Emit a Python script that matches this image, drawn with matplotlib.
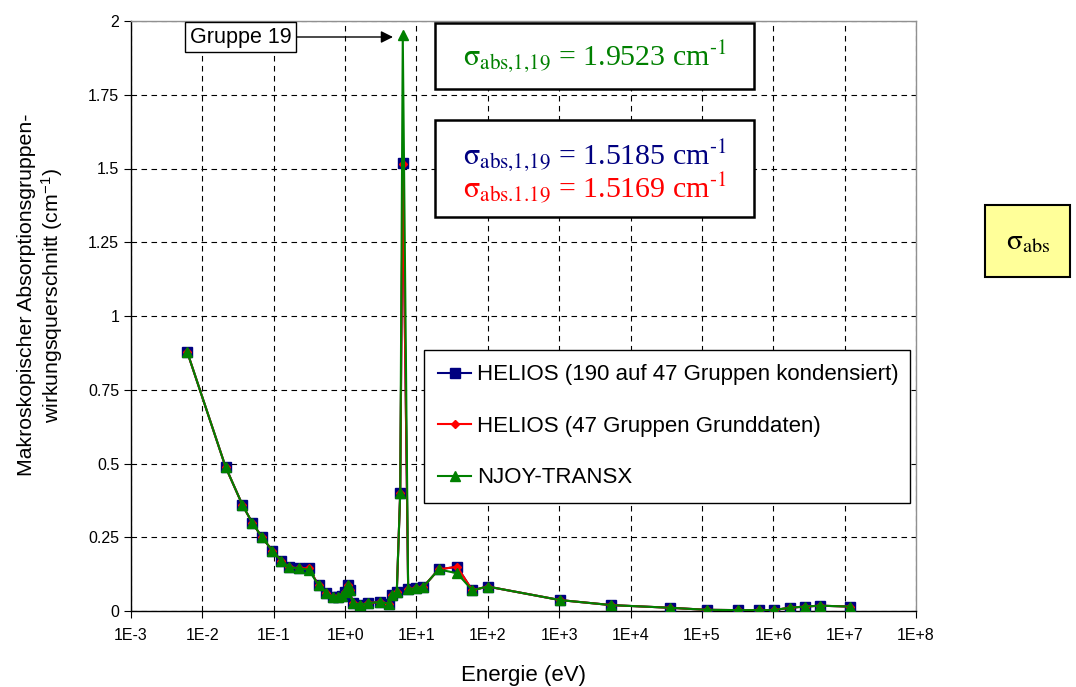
import matplotlib
matplotlib.use("Agg")
import matplotlib.pyplot as plt
from matplotlib.patches import Rectangle

plt.rcParams['font.family'] = ['Liberation Sans', 'DejaVu Sans']
plt.rcParams['mathtext.fontset'] = 'stix'

# ---- data ----
energy_eV = [6.12e-3, 2.11e-2, 3.65e-2, 4.98e-2, 6.86e-2, 9.6e-2, 0.128, 0.164, 0.224, 0.309,
             0.426, 0.546, 0.675, 0.785, 0.893, 1.0, 1.095, 1.156, 1.285, 1.63,
             2.08, 3.04, 4.10, 4.57, 5.30, 5.92, 6.43, 7.65, 9.9, 12.5,
             20.5, 37.1, 60.7, 99.0, 1030.0, 5380.0, 35600.0, 1.16e5, 3.22e5, 6.27e5,
             1.02e6, 1.69e6, 2.76e6, 4.47e6, 1.2e7]
helios_190 = [0.879, 0.489, 0.359, 0.300, 0.250, 0.204, 0.170, 0.148, 0.145, 0.145,
              0.087, 0.060, 0.048, 0.047, 0.050, 0.065, 0.088, 0.070, 0.026, 0.022,
              0.026, 0.031, 0.025, 0.054, 0.064, 0.400, 1.5185, 0.073, 0.078, 0.082,
              0.141, 0.150, 0.070, 0.083, 0.037, 0.020, 0.011, 0.004, 0.003, 0.003,
              0.003, 0.011, 0.015, 0.018, 0.015]
helios_47 = [0.879, 0.489, 0.359, 0.300, 0.250, 0.204, 0.170, 0.148, 0.145, 0.145,
             0.087, 0.060, 0.048, 0.047, 0.050, 0.065, 0.088, 0.070, 0.026, 0.022,
             0.026, 0.031, 0.025, 0.054, 0.064, 0.400, 1.5169, 0.073, 0.078, 0.082,
             0.141, 0.150, 0.070, 0.083, 0.037, 0.020, 0.011, 0.004, 0.003, 0.003,
             0.003, 0.011, 0.015, 0.018, 0.015]
njoy_transx = [0.879, 0.489, 0.359, 0.300, 0.250, 0.204, 0.170, 0.148, 0.145, 0.140,
               0.087, 0.060, 0.048, 0.047, 0.050, 0.065, 0.088, 0.070, 0.026, 0.022,
               0.026, 0.031, 0.025, 0.054, 0.064, 0.400, 1.9523, 0.073, 0.078, 0.082,
               0.141, 0.128, 0.070, 0.083, 0.037, 0.020, 0.011, 0.004, 0.003, 0.003,
               0.003, 0.011, 0.015, 0.018, 0.015]

series_labels = ["HELIOS (190 auf 47 Gruppen kondensiert)",
                 "HELIOS (47 Gruppen Grunddaten)",
                 "NJOY-TRANSX"]
x_ticks = [1e-3, 1e-2, 1e-1, 1e0, 1e1, 1e2, 1e3, 1e4, 1e5, 1e6, 1e7, 1e8]
x_tick_labels = ["1E-3", "1E-2", "1E-1", "1E+0", "1E+1", "1E+2", "1E+3",
                 "1E+4", "1E+5", "1E+6", "1E+7", "1E+8"]
y_ticks = [0, 0.25, 0.5, 0.75, 1, 1.25, 1.5, 1.75, 2]
y_tick_labels = ["0", "0.25", "0.5", "0.75", "1", "1.25", "1.5", "1.75", "2"]

# ---- figure ----
W, H = 1076, 687
fig = plt.figure(figsize=(W / 100, H / 100), dpi=100)
L, R, T, B = 131, 916, 21, 611
ax = fig.add_axes([L / W, 1 - B / H, (R - L) / W, (B - T) / H])

navy, red, green = "#000080", "#FF0000", "#008000"
ax.plot(energy_eV, helios_190, color=navy, lw=1.5, marker="s", ms=6.5,
        mfc=navy, mec=navy, label=series_labels[0], zorder=3)
ax.plot(energy_eV, helios_47, color=red, lw=1.5, marker="D", ms=4,
        mfc=red, mec=red, label=series_labels[1], zorder=4)
ax.plot(energy_eV, njoy_transx, color=green, lw=1.5, marker="^", ms=7,
        mfc=green, mec=green, label=series_labels[2], zorder=5)

ax.set_xscale("log")
ax.set_xlim(1e-3, 1e8)
ax.set_ylim(0, 2)
ax.set_xticks(x_ticks)
ax.set_xticklabels(x_tick_labels)
ax.minorticks_off()
ax.set_yticks(y_ticks)
ax.set_yticklabels(y_tick_labels)
ax.tick_params(labelsize=11.5, direction="out", length=5, width=0.8, color="black")
ax.tick_params(axis="x", pad=7)

ax.grid(True, which="major", color="black", lw=0.8, linestyle=(0, (5, 4)))
ax.set_axisbelow(True)
for s in ("top", "right"):
    ax.spines[s].set_color("#909090")
    ax.spines[s].set_linewidth(1.0)
for s in ("left", "bottom"):
    ax.spines[s].set_color("black")
    ax.spines[s].set_linewidth(1.0)

ax.set_xlabel("Energie (eV)", fontsize=16, va="center")
ax.xaxis.set_label_coords(0.5, (B - 676) / (B - T))
ax.set_ylabel("Makroskopischer Absorptionsgruppen-\nwirkungsquerschnitt (cm$^{\\mathregular{-1}}$)",
              fontsize=15.3, linespacing=1.15, va="center")
ax.yaxis.set_label_coords((41 - L) / (R - L), (B - 295) / (B - T))

leg = ax.legend(loc="upper left",
                bbox_to_anchor=((424 - L) / (R - L), (B - 350) / (B - T),
                                (910 - 424) / (R - L), 0.0),
                mode="expand", fontsize=16, frameon=True, fancybox=False,
                edgecolor="black", framealpha=1, labelspacing=1.37,
                handlelength=1.45, handletextpad=0.3, borderpad=0.65,
                borderaxespad=0)
leg.get_frame().set_linewidth(1.0)


def axf(px, py):
    return (px - L) / (R - L), (B - py) / (B - T)


# Gruppe 19 annotation
ax.annotate("Gruppe 19", xy=axf(393, 37), xycoords="axes fraction",
            xytext=axf(240.5, 37), textcoords="axes fraction",
            ha="center", va="center", fontsize=15.5,
            bbox=dict(boxstyle="square,pad=0.2", fc="white", ec="black", lw=1.0),
            arrowprops=dict(arrowstyle="-|>", color="black", lw=1.0,
                            mutation_scale=18, shrinkA=0, shrinkB=0),
            zorder=10, annotation_clip=False)

# value boxes
x0, y0 = axf(435, 89)
x1, y1 = axf(754, 23)
ax.add_patch(Rectangle((x0, y0), x1 - x0, y1 - y0, transform=ax.transAxes,
                       fc="white", ec="black", lw=1.8, zorder=8, clip_on=False))
x0, y0 = axf(435, 217)
x1, y1 = axf(754, 120)
ax.add_patch(Rectangle((x0, y0), x1 - x0, y1 - y0, transform=ax.transAxes,
                       fc="white", ec="black", lw=1.8, zorder=8, clip_on=False))

sig = r"$\mathrm{\sigma}_{\text{abs,1,19}}$"
sig2 = r"$\mathrm{\sigma}_{\text{abs.1.19}}$"
unit = r"cm$^{\text{-1}}$"
tkw = dict(transform=ax.transAxes, ha="center", va="center", fontsize=21.5,
           family="Liberation Serif", zorder=9)
ax.text(*axf(595, 56), sig + " = 1.9523 " + unit, color=green, **tkw)
ax.text(*axf(595, 155), sig + " = 1.5185 " + unit, color=navy, **tkw)
ax.text(*axf(595, 188), sig2 + " = 1.5169 " + unit, color=red, **tkw)

# yellow side box
fig.patches.append(Rectangle((985 / W, 1 - 277 / H), 85 / W, 72 / H,
                             transform=fig.transFigure, fc="#FFFF99",
                             ec="black", lw=1.5, figure=fig))
fig.text(1028 / W, 1 - 242 / H, r"$\mathrm{\sigma}_{\text{abs}}$", ha="center",
         va="center", fontsize=21, family="Liberation Serif")

fig.savefig("out.png", dpi=100)
